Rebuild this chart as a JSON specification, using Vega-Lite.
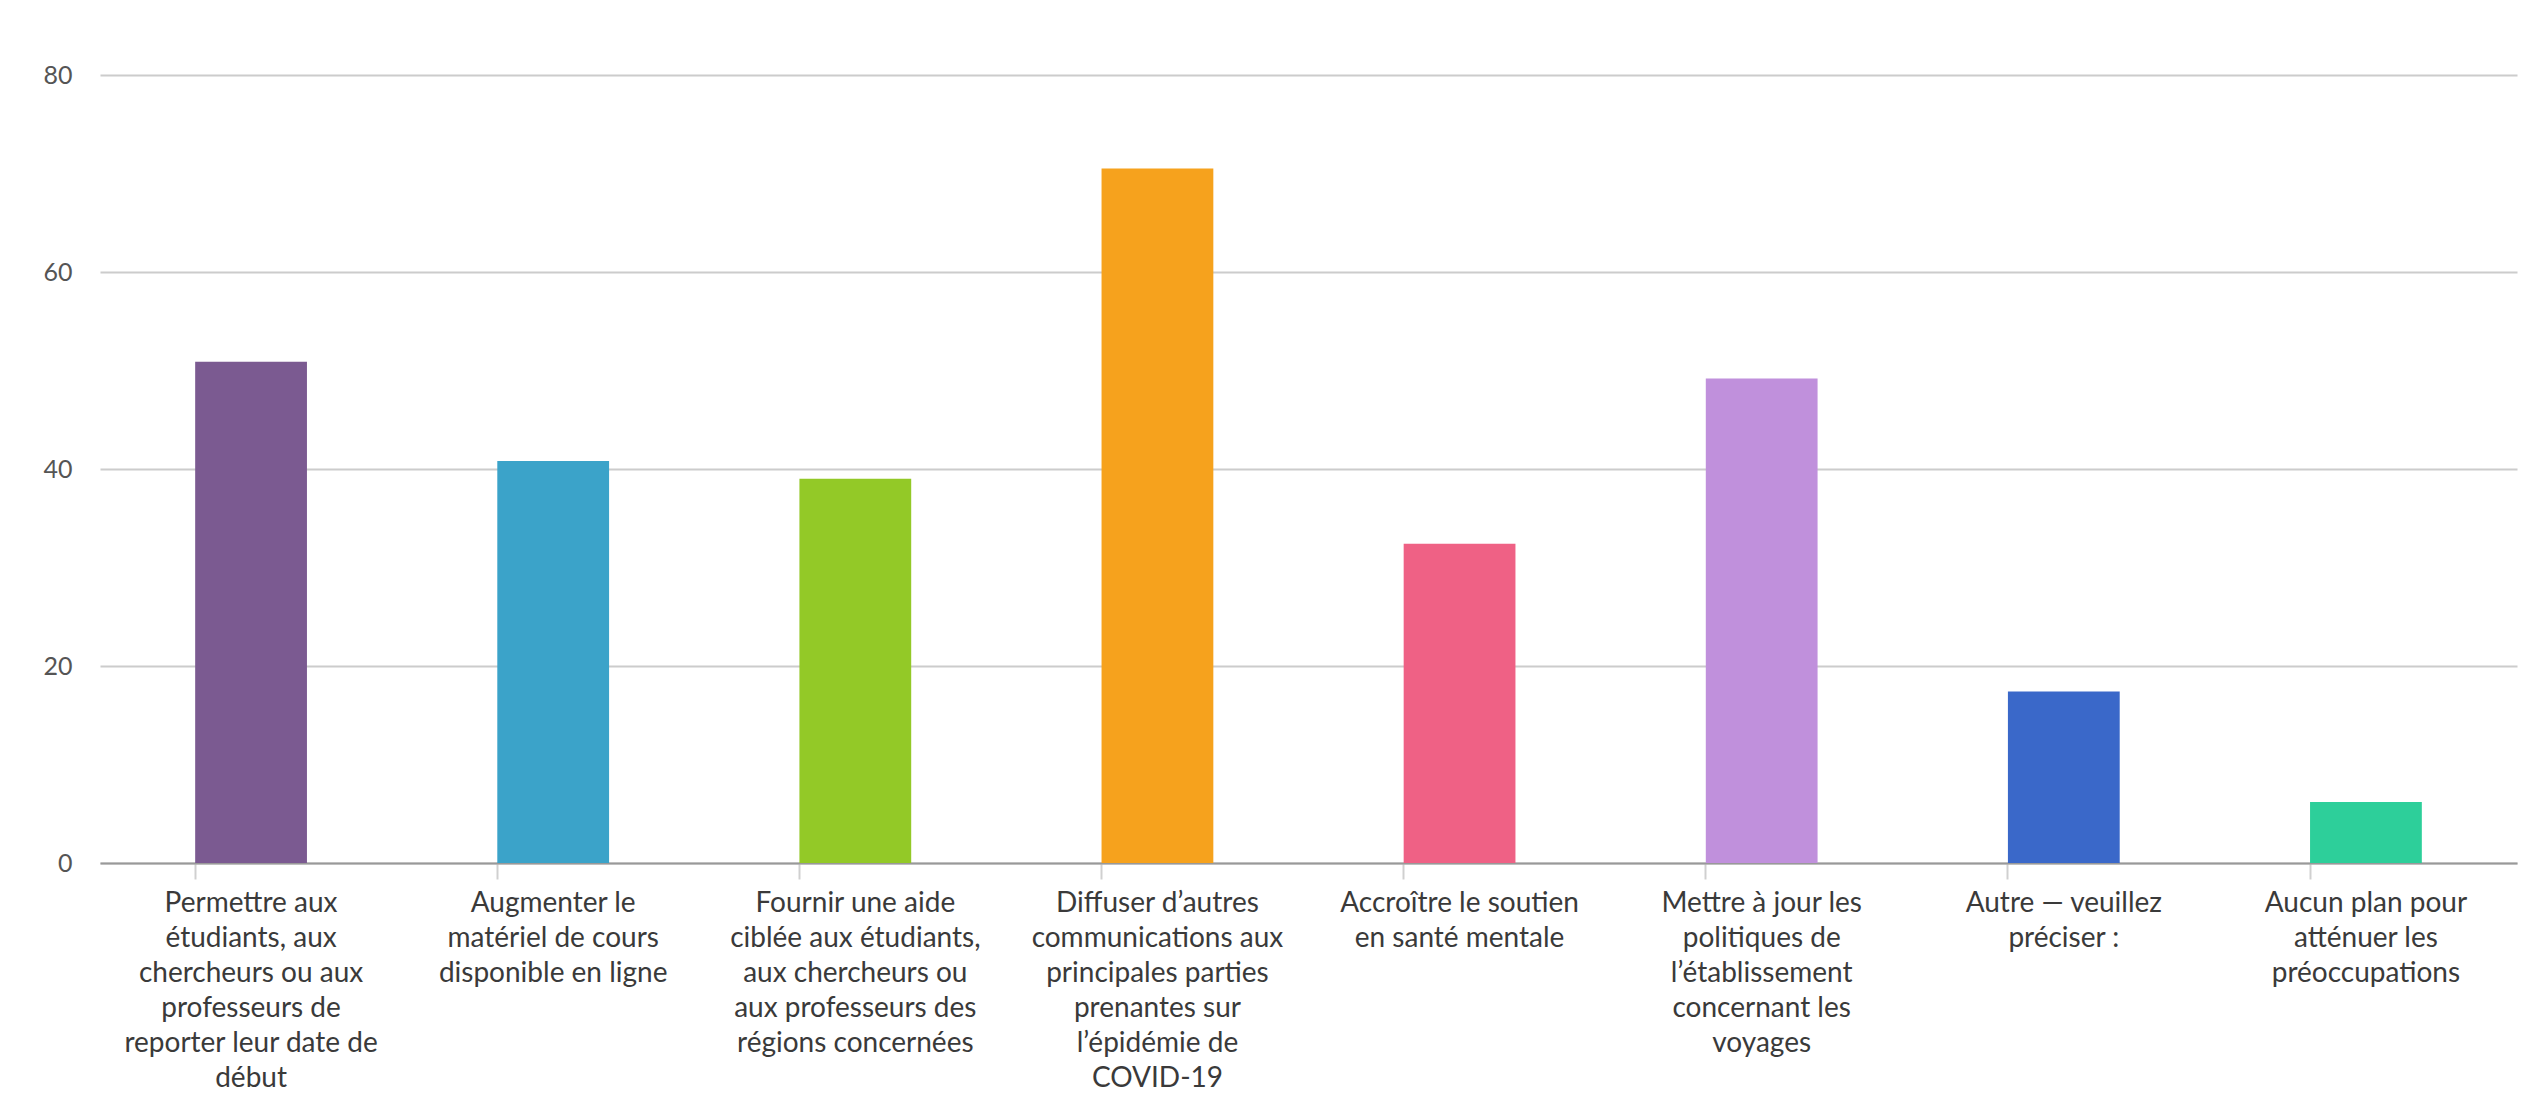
{
  "$schema": "https://vega.github.io/schema/vega-lite/v6.json",
  "width": 2417,
  "height": 788,
  "autosize": {"type": "none"},
  "padding": {"left": 100, "top": 75, "right": 9, "bottom": 247},
  "background": "white",
  "data": {
    "values": [
      {"option": "Permettre aux\nétudiants, aux\nchercheurs ou aux\nprofesseurs de\nreporter leur date de\ndébut", "value": 50.9, "color": "#7b5a91"},
      {"option": "Augmenter le\nmatériel de cours\ndisponible en ligne", "value": 40.8, "color": "#3ba3c9"},
      {"option": "Fournir une aide\nciblée aux étudiants,\naux chercheurs ou\naux professeurs des\nrégions concernées", "value": 39.0, "color": "#93c927"},
      {"option": "Diffuser d’autres\ncommunications aux\nprincipales parties\nprenantes sur\nl’épidémie de\nCOVID-19", "value": 70.5, "color": "#f6a21d"},
      {"option": "Accroître le soutien\nen santé mentale", "value": 32.4, "color": "#ef6185"},
      {"option": "Mettre à jour les\npolitiques de\nl’établissement\nconcernant les\nvoyages", "value": 49.2, "color": "#c090dc"},
      {"option": "Autre — veuillez\npréciser :", "value": 17.4, "color": "#3a68c9"},
      {"option": "Aucun plan pour\natténuer les\npréoccupations", "value": 6.2, "color": "#2dcf9a"}
    ]
  },
  "mark": {"type": "bar"},
  "encoding": {
    "x": {
      "field": "option",
      "type": "nominal",
      "sort": null,
      "scale": {"paddingInner": 0.63, "paddingOuter": 0.315},
      "axis": {
        "title": null,
        "labelAngle": 0,
        "labelAlign": "center",
        "labelBaseline": "top",
        "labelExpr": "split(datum.label, '\\n')",
        "labelFont": "Lato",
        "labelFontSize": 28,
        "labelLineHeight": 35,
        "labelColor": "#3a3a3a",
        "labelLimit": 0,
        "labelPadding": 10,
        "bandPosition": 0,
        "ticks": true,
        "tickSize": 16,
        "tickColor": "#d0d0d0",
        "tickWidth": 2,
        "domain": true,
        "domainColor": "#999999",
        "domainWidth": 2,
        "grid": false
      }
    },
    "y": {
      "field": "value",
      "type": "quantitative",
      "scale": {"domain": [0, 80], "nice": false},
      "axis": {
        "title": null,
        "values": [0, 20, 40, 60, 80],
        "labelFont": "Lato",
        "labelFontSize": 25,
        "labelColor": "#555555",
        "labelPadding": 28,
        "ticks": false,
        "domain": false,
        "grid": true,
        "gridColor": "#cccccc",
        "gridWidth": 2
      }
    },
    "color": {"field": "color", "type": "nominal", "scale": null, "legend": null}
  },
  "config": {"view": {"stroke": null}}
}
